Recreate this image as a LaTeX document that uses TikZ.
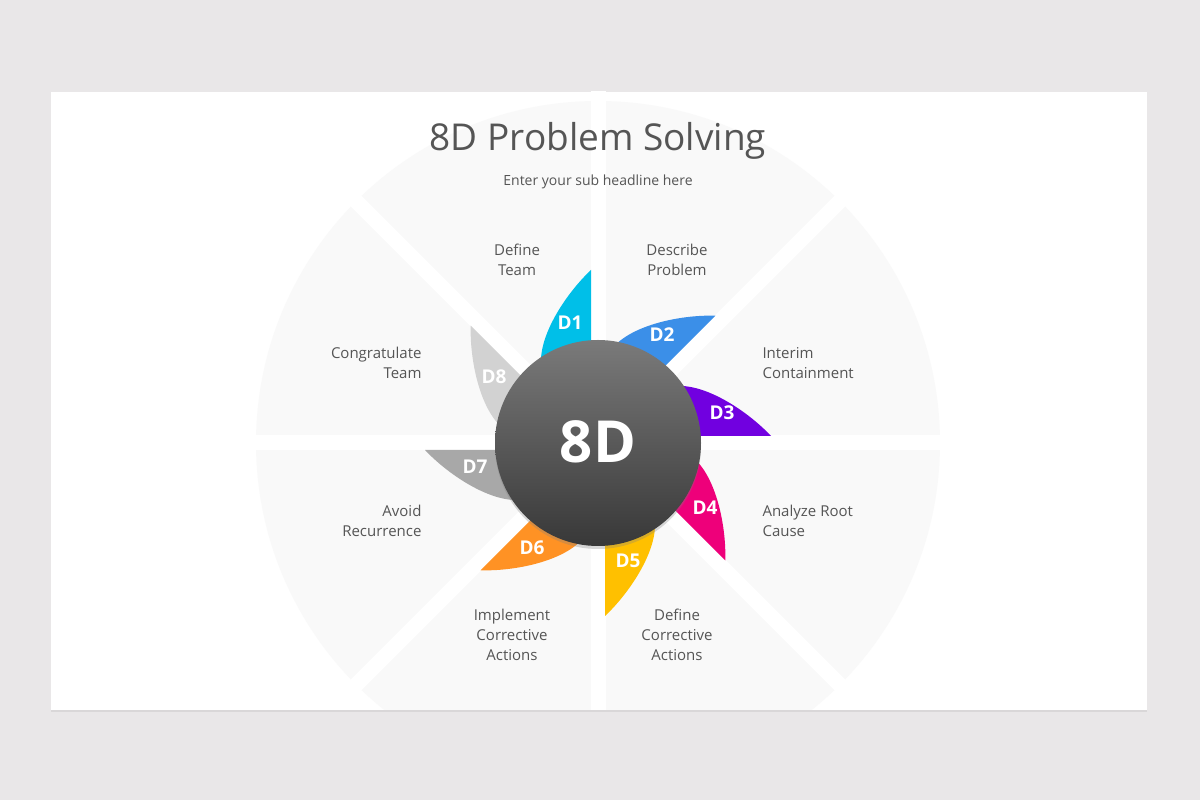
\documentclass[tikz,border=0pt]{standalone}
\usepackage{fontspec}
\setmainfont{Open Sans}
\usetikzlibrary{shadows,calc}
\definecolor{txt}{HTML}{555555}
\definecolor{pagebg}{HTML}{E9E7E8}
\definecolor{sect}{HTML}{F9F9F9}
\definecolor{gtop}{HTML}{7A7A7A}
\definecolor{gbot}{HTML}{383838}
\definecolor{cA}{HTML}{00BFE8}
\definecolor{cB}{HTML}{3B8FE8}
\definecolor{cC}{HTML}{7100E0}
\definecolor{cD}{HTML}{EE007A}
\definecolor{cE}{HTML}{FFC000}
\definecolor{cF}{HTML}{FF9224}
\definecolor{cG}{HTML}{A8A8A8}
\definecolor{cH}{HTML}{D2D2D2}
\tikzset{lbl/.style={text=txt,font=\fontsize{15}{20}\selectfont,align=center},
 plbl/.style={text=white,font=\fontsize{19}{20}\selectfont\bfseries}}
\newcommand{\petal}[2]{%
 \fill[#2] ($(C)+(#1+90:7)$) -- ($(C)+(#1:173)+(#1+90:7)$)
   .. controls ($(C)+(#1+14:150)$) and ($(C)+(#1+38:115)$) .. ($(C)+(#1+40:80)$) -- cycle;}
\begin{document}
\begin{tikzpicture}[x=1pt,y=1pt]
\useasboundingbox (0,0) rectangle (1200,800);
\fill[pagebg] (0,0) rectangle (1200,800);
\fill[white,drop shadow={opacity=0.15,shadow xshift=0pt,shadow yshift=-2pt}] (51,90) rectangle (1147,708);
\coordinate (C) at (598,357);
\begin{scope}
\clip (51,90) rectangle (1147,708);
\fill[sect] (C) circle (342);
\foreach \a in {0,45,...,315}{\draw[white,line width=15] (C) -- ++(\a:360);}
\end{scope}
\petal{90}{cA}
\petal{45}{cB}
\petal{0}{cC}
\petal{-45}{cD}
\petal{-90}{cE}
\petal{-135}{cF}
\petal{180}{cG}
\petal{135}{cH}
\shade[top color=gtop,bottom color=gbot,drop shadow={opacity=0.3,shadow xshift=0pt,shadow yshift=-3pt}] (C) circle (103);
\node[text=white,font=\fontsize{58}{60}\selectfont\bfseries] (c8) at (598,358) {8D};
\node[text=txt,font=\fontsize{37}{40}\selectfont] (title) at (598,659) {8D Problem Solving};
\node[lbl,font=\fontsize{14}{16}\selectfont] (sub) at (598,618) {Enter your sub headline here};
\node[plbl] (p1) at (570,477) {D1};
\node[plbl] (p2) at (662,465) {D2};
\node[plbl] (p3) at (722,387) {D3};
\node[plbl] (p4) at (705,292) {D4};
\node[plbl] (p5) at (628,239) {D5};
\node[plbl] (p6) at (532,252) {D6};
\node[plbl] (p7) at (475,333) {D7};
\node[plbl] (p8) at (494,423) {D8};
\node[lbl] (l1) at (517,540) {Define\\Team};
\node[lbl] (l2) at (677,540) {Describe\\Problem};
\node[lbl,align=left,anchor=west] (l3) at (759,437) {Interim\\Containment};
\node[lbl,align=left,anchor=west] (l4) at (759,279) {Analyze Root\\Cause};
\node[lbl] (l5) at (677,165) {Define\\Corrective\\Actions};
\node[lbl] (l6) at (512,165) {Implement\\Corrective\\Actions};
\node[lbl,align=right,anchor=east] (l7) at (425,279) {Avoid\\Recurrence};
\node[lbl,align=right,anchor=east] (l8) at (425,437) {Congratulate\\Team};
\end{tikzpicture}
\end{document}
